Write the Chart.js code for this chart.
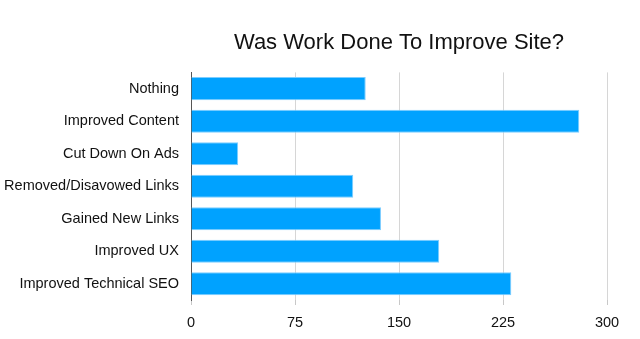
<!DOCTYPE html>
<html>
<head>
<meta charset="utf-8">
<script src="https://cdn.jsdelivr.net/npm/chart.js@4/dist/chart.umd.min.js"></script>
<style>
  html, body { margin: 0; padding: 0; background: #fff; }
  #wrap { width: 640px; height: 339px; }
</style>
</head>
<body>
<div id="wrap"><canvas id="myChart"></canvas></div>
<script>
var categories = ['Nothing', 'Improved Content', 'Cut Down On Ads', 'Removed/Disavowed Links',
    'Gained New Links', 'Improved UX', 'Improved Technical SEO'];
var responses = [126, 280, 34, 117, 137, 179, 231];
var xTicks = [0, 75, 150, 225, 300];

function createChart() {
    var ctx = document.getElementById('myChart');
    var font = "'Liberation Sans', Arial, Helvetica, sans-serif";
    var myChart = new Chart(ctx, {
        type: 'bar',
        data: {
            labels: categories,
            datasets: [{
                label: 'Responses',
                data: responses,
                backgroundColor: 'rgb(0, 162, 255)',
                borderColor: 'rgb(125, 205, 255)',
                borderWidth: 1,
                borderSkipped: 'start',
                categoryPercentage: 1,
                barPercentage: 0.71
            }]
        },
        options: {
            indexAxis: 'y',
            responsive: true,
            maintainAspectRatio: false,
            animation: false,
            layout: { padding: { left: 0, right: 33, top: 0, bottom: 0 } },
            plugins: {
                legend: { display: false },
                tooltip: { enabled: false },
                title: {
                    display: true,
                    fullSize: false,
                    text: 'Was Work Done To Improve Site?',
                    color: '#111',
                    font: { family: font, size: 22, weight: 'normal' },
                    padding: { top: 30, bottom: 16 }
                }
            },
            scales: {
                x: {
                    min: 0,
                    max: 300,
                    afterBuildTicks: function (scale) {
                        scale.ticks = xTicks.map(function (v) { return { value: v }; });
                    },
                    afterFit: function (scale) { scale.height = 39; },
                    border: { display: false },
                    grid: { color: '#d6d6d6', lineWidth: 1, tickLength: 5, tickColor: '#c8c8c8' },
                    ticks: {
                        color: '#111',
                        padding: 9,
                        maxRotation: 0,
                        font: { family: font, size: 14.5 }
                    }
                },
                y: {
                    afterFit: function (scale) { scale.width = 191; },
                    border: { display: true, color: '#555', width: 1 },
                    grid: { display: false, drawTicks: false },
                    ticks: {
                        color: '#111',
                        padding: 12,
                        font: { family: font, size: 14.5 }
                    }
                }
            }
        }
    });
}

createChart();
</script>
</body>
</html>
